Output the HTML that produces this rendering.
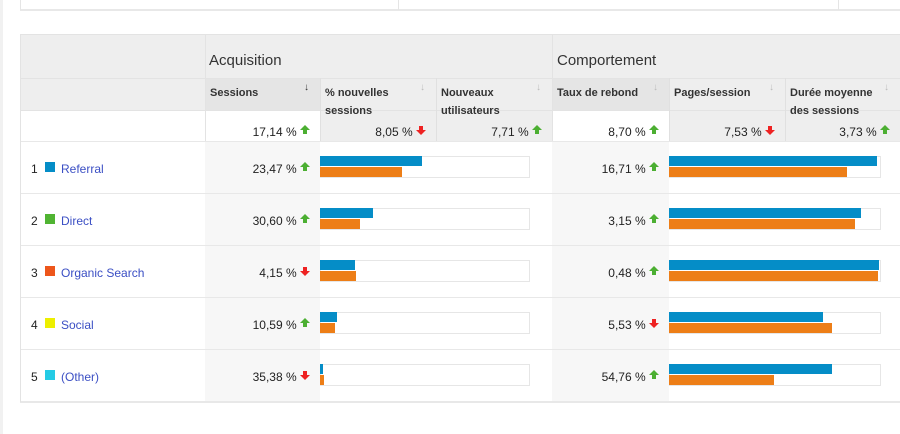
<!DOCTYPE html>
<html><head><meta charset="utf-8">
<style>
body{margin:0;width:900px;height:434px;background:#fff;font-family:"Liberation Sans",Arial,sans-serif;position:relative;overflow:hidden}
.a{position:absolute;box-sizing:border-box}
.t{font-size:12px;color:#222}
.h{font-size:11px;font-weight:bold;color:#333;line-height:12px}
.g{font-size:15px;color:#333}
.up{display:inline-block;width:0;height:0;border-left:5px solid transparent;border-right:5px solid transparent;border-bottom:5px solid #4caf32;vertical-align:middle;position:relative;top:-4px}
.up:after{content:"";position:absolute;left:-2px;top:5px;width:4px;height:4px;background:#4caf32}
.dn{display:inline-block;width:0;height:0;border-left:5px solid transparent;border-right:5px solid transparent;border-top:5px solid #e22;vertical-align:middle;position:relative;top:1px}
.dn:before{content:"";position:absolute;left:-2px;top:-9px;width:4px;height:4px;background:#e22}
.lnk{color:#3b4fc4}
</style></head><body>
<div class="a" style="left:0;top:0;width:3px;height:434px;background:#f1f1f1"></div>
<div class="a" style="left:20px;top:0;width:880px;height:11px;border-left:1px solid #e5e5e5;border-bottom:2px solid #e8e8e8"></div>
<div class="a" style="left:398px;top:0;width:1px;height:10px;background:#e5e5e5"></div>
<div class="a" style="left:838px;top:0;width:1px;height:10px;background:#e5e5e5"></div>
<div id="tbl"></div>
<script>
const channels=["Referral","Direct","Organic Search","Social","(Other)"];
const swatch=["#058dc7","#50b432","#ed561b","#edef00","#24cbe5"];
const sessionsChange=["23,47 %","30,60 %","4,15 %","10,59 %","35,38 %"];
const sessionsDir=[1,1,0,1,0];
const bounceChange=["16,71 %","3,15 %","0,48 %","5,53 %","54,76 %"];
const bounceDir=[1,1,1,0,1];
const newSessCur=[102,53,35,17,3];
const newSessPrev=[82,40,36,15,4];
const pagesCur=[208,192,210,154,163];
const pagesPrev=[178,186,209,163,105];
const totals=["17,14 %","8,05 %","7,71 %","8,70 %","7,53 %","3,73 %"];
const totalsDir=[1,0,1,1,0,1];
const headers=["Sessions","% nouvelles sessions","Nouveaux utilisateurs","Taux de rebond","Pages/session","Durée moyenne des sessions"];

const T=document.getElementById('tbl');
function box(x,y,w,h,name,css,html){const d=document.createElement('div');d.className='a';d.style.cssText=`left:${x}px;top:${y}px;width:${w}px;height:${h}px;`+(css||'');


if(html!==undefined)d.innerHTML=html;T.appendChild(d);return d;}
const cols=[205,320,436,552,669,785,900];
const bw=209, bx=[320,669], maxW=[209,211];
// header bg
box(20,34,880,107,'header-bg','background:#eeeeee;border-top:1px solid #e3e3e3');
box(20,111,185,30,'totals-dim-cell','background:#fff');
box(205,111,115,30,'totals-sessions-cell','background:#fff');
box(552,111,117,30,'totals-bounce-cell','background:#fff');
box(205,78,115,33,'sessions-header-sorted','background:#e5e5e5');
box(552,78,117,33,'bounce-header-sorted','background:#e5e5e5');
box(20,78,880,1,'header-line','background:#e3e3e3');
box(20,110,880,1,'header-line-2','background:#e3e3e3');
box(20,141,880,1,'header-line-3','background:#e3e3e3');
box(205,34,1,367,'group-divider','background:#e3e3e3');
box(552,34,1,367,'group-divider-2','background:#e3e3e3');
box(209,52,200,20,'acquisition-group','','<span class="g">Acquisition</span>');
box(557,52,200,20,'comportement-group','','<span class="g">Comportement</span>');
for(let i=0;i<6;i++){
  const x=cols[i],w=cols[i+1]-x;
  if(i>0&&i!==3)box(x,78,1,63,'col-divider','background:#e0e0e0');
  const hd=box(x+5,83,w-25,26,'column-header','', `<span class="h">${headers[i]}</span>`);
  
  box(x+w-16,82,10,12,'sort-arrow','font-size:10px;color:'+(i==0?'#333':'#bbb'),'&#8595;');
  box(x,123,w-10,14,'total-value','text-align:right',`<span class="t">${totals[i]} </span><span class="${totalsDir[i]?'up':'dn'}"></span>`);
}
for(let r=0;r<5;r++){
  const y=141+52*r;
  box(20,y,880,1,'row-line','background:#e8e8e8');
  box(205,y+1,115,51,'sessions-cell','background:#f7f7f7');
  box(552,y+1,117,51,'bounce-cell','background:#f7f7f7');
  box(31,y+19,12,14,'row-index','',`<span class="t">${r+1}</span>`);
  box(45,y+21,10,10,'channel-swatch','background:'+swatch[r]);
  const l=box(61,y+19,140,14,'channel-link','',`<span class="t lnk">${channels[r]}</span>`);
  
  box(205,y+19,105,14,'sessions-change','text-align:right',`<span class="t">${sessionsChange[r]} </span><span class="${sessionsDir[r]?'up':'dn'}"></span>`);
  box(552,y+19,107,14,'bounce-change','text-align:right',`<span class="t">${bounceChange[r]} </span><span class="${bounceDir[r]?'up':'dn'}"></span>`);
  const cur=[newSessCur[r],pagesCur[r]],prev=[newSessPrev[r],pagesPrev[r]];
  for(let k=0;k<2;k++){
    box(bx[k],y+15,maxW[k]+1,22,'bar-track','border:1px solid #e6e6e6;background:#fff');
    box(bx[k],y+15,cur[k]*maxW[k]/maxW[k],10,'bar-current','background:#058dc7');
    box(bx[k],y+26,prev[k]*maxW[k]/maxW[k],10,'bar-previous','background:#ed7e17');
  }
}
box(20,401,880,2,'table-bottom','background:#e8e8e8');
box(20,34,1,368,'table-left','background:#e3e3e3');
</script>
</body></html>
